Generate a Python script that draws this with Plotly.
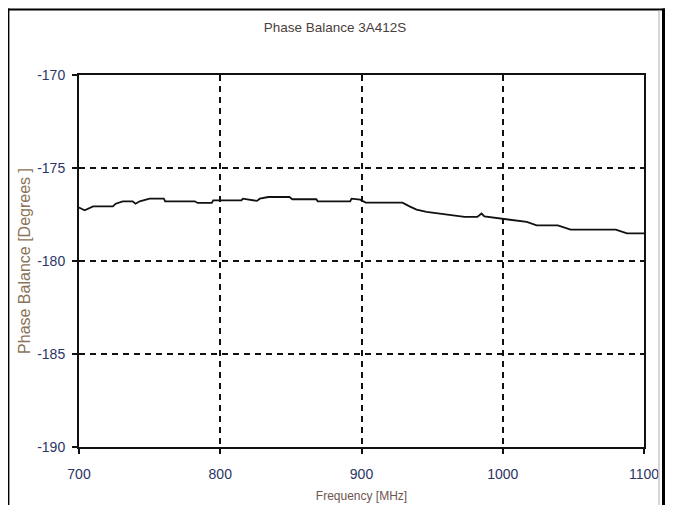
import plotly.graph_objects as go

# Data
freq_mhz = [700, 704, 710, 724, 726, 731, 738, 740, 743, 750,
            760, 761, 782, 784, 794, 795, 815, 816, 826, 828,
            834, 849, 851, 868, 869, 892, 893, 899, 903, 929,
            934, 939, 946, 958, 973, 982, 985, 987, 998, 1007,
            1017, 1024, 1039, 1048, 1080, 1088, 1100]
phase_deg = [-177.13, -177.27, -177.06, -177.06, -176.92, -176.79, -176.79, -176.92, -176.79, -176.65,
             -176.65, -176.79, -176.79, -176.88, -176.88, -176.74, -176.74, -176.65, -176.77, -176.65,
             -176.56, -176.56, -176.68, -176.68, -176.79, -176.79, -176.65, -176.70, -176.86, -176.86,
             -177.06, -177.24, -177.36, -177.49, -177.63, -177.63, -177.45, -177.60, -177.72, -177.81,
             -177.90, -178.08, -178.08, -178.31, -178.31, -178.52, -178.52]

x_ticks = [700, 800, 900, 1000, 1100]
y_ticks = [-190, -185, -180, -175, -170]

title_text = "Phase Balance 3A412S"
x_title = "Frequency [MHz]"
y_title = "Phase Balance [Degrees ]"

# The page body has an 8px margin, so the figure is sized to fit inside it.
W, H = 657, 497
ML, MR, MT, MB = 71, 21, 66.5, 58
PW, PH = W - ML - MR, H - MT - MB

def px_x(p):
    return (p - ML) / PW

def px_y(p):
    return (H - MB - p) / PH

fig = go.Figure()
fig.add_trace(go.Scatter(x=freq_mhz, y=phase_deg, mode="lines",
                         line=dict(color="#111111", width=1.8),
                         showlegend=False, hoverinfo="skip"))

tick_font = dict(family="Liberation Sans, Arial, sans-serif", size=14, color="#2c3566")

fig.update_layout(
    template="none",
    width=W, height=H,
    margin=dict(l=ML, r=MR, t=MT, b=MB, autoexpand=False),
    paper_bgcolor="white", plot_bgcolor="white",
    title=dict(text=title_text, x=327 / W, xref="container", xanchor="center",
               y=1 - 19 / H, yref="container", yanchor="middle",
               font=dict(family="Liberation Sans, Arial, sans-serif", size=13.5, color="#4a403c")),
    xaxis=dict(range=[700, 1100], tickvals=x_ticks, ticktext=[str(v) for v in x_ticks],
               automargin=False,
               showline=True, linecolor="#111111", linewidth=2, mirror=True,
               showgrid=True, gridcolor="#111111", gridwidth=1.6, griddash="6px,5px",
               ticks="outside", ticklen=5, tickcolor="#111111", tickwidth=1.5,
               ticklabelstandoff=8, tickfont=tick_font, zeroline=False,
               title=dict(text=x_title, standoff=11,
                          font=dict(family="Liberation Sans, Arial, sans-serif",
                                    size=12, color="#6e5650"))),
    yaxis=dict(range=[-190, -170], tickvals=y_ticks, ticktext=[str(v) for v in y_ticks],
               automargin=False,
               showline=True, linecolor="#111111", linewidth=2, mirror=True,
               showgrid=True, gridcolor="#111111", gridwidth=1.6, griddash="6px,5px",
               ticks="outside", ticklen=5, tickcolor="#111111", tickwidth=1.5,
               ticklabelstandoff=4, tickfont=tick_font, zeroline=False,
               title=dict(text=y_title, standoff=3,
                          font=dict(family="Liberation Sans, Arial, sans-serif", size=16, color="#8a7358"))),
    shapes=[
        dict(type="line", xref="paper", yref="paper", x0=px_x(0), x1=px_x(W), y0=px_y(0.8), y1=px_y(0.8),
             line=dict(color="black", width=2)),
        dict(type="line", xref="paper", yref="paper", x0=px_x(0.7), x1=px_x(0.7), y0=px_y(0), y1=px_y(H),
             line=dict(color="black", width=1.4)),
        dict(type="line", xref="paper", yref="paper", x0=px_x(651), x1=px_x(651), y0=px_y(2), y1=px_y(H),
             line=dict(color="#c8c8c8", width=1.5)),
        dict(type="line", xref="paper", yref="paper", x0=px_x(655.5), x1=px_x(655.5), y0=px_y(0), y1=px_y(H),
             line=dict(color="black", width=3)),
    ],
)

fig.write_html("out.html")
